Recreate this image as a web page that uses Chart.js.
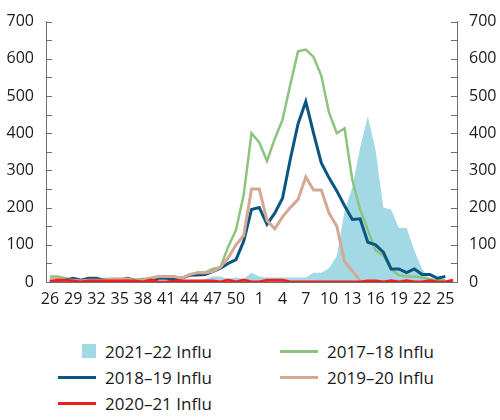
<!DOCTYPE html>
<html>
<head>
<meta charset="utf-8">
<script src="https://cdn.jsdelivr.net/npm/chart.js@4.4.1/dist/chart.umd.min.js"></script>
<style>
  html, body { margin: 0; padding: 0; background: #fff; }
  .wrap { position: relative; width: 500px; height: 420px; font-family: "Open Sans", sans-serif; }
  #chart { position: absolute; left: 0; top: 0; }
  .legend {
    position: absolute; left: 58px; top: 338px;
    display: grid; grid-template-columns: 222px 200px; grid-auto-rows: 26px;
    font-size: 17px; color: #1a1a1a;
  }
  .legend__item { display: flex; align-items: center; white-space: nowrap; }
  .legend__symbol { width: 38px; height: 14px; margin-right: 9px; display: flex; align-items: center; justify-content: flex-end; }
  .legend__line { width: 38px; height: 3px; }
  .legend__box { width: 14px; height: 14px; }
</style>
</head>
<body>
<div class="wrap">
  <canvas id="chart" width="500" height="320"></canvas>
  <div class="legend" id="legend"></div>
</div>
<script>
// weeks 26-52 then 1-26
const weeks = [26,27,28,29,30,31,32,33,34,35,36,37,38,39,40,41,42,43,44,45,46,47,48,49,50,51,52,
  1,2,3,4,5,6,7,8,9,10,11,12,13,14,15,16,17,18,19,20,21,22,23,24,25,26];

const influ2122 = [0,0,0,0,0,0,0,0,0,0,0,0,0,0,0,0,0,0,0,3,8,15,15,8,12,8,25,15,12,12,12,12,12,12,25,25,37,70,190,255,360,445,355,200,195,145,145,85,35,5,0,0,null];
const influ1718 = [15,15,10,5,5,5,5,8,8,8,8,5,8,10,15,15,15,10,20,25,25,35,40,95,140,235,400,375,325,385,436,530,620,625,605,555,455,400,413,275,195,140,85,70,35,18,15,15,12,8,5,5,null];
const influ1819 = [3,5,5,10,5,10,10,5,5,5,10,5,5,5,10,10,8,10,18,19,20,28,37,50,60,110,195,200,155,185,225,330,425,485,400,320,280,245,205,168,170,107,100,80,35,35,25,35,20,20,10,15,null];
const influ1920 = [10,8,5,5,3,5,5,5,8,8,8,5,5,10,15,15,15,10,20,25,25,28,40,65,100,125,250,250,165,143,175,200,222,282,247,247,185,150,55,30,3,null,null,null,null,null,null,null,null,null,null,null,null];
const influ2021 = [0,5,5,3,0,3,3,3,3,3,3,3,0,5,0,0,3,3,3,3,3,3,0,5,0,5,0,0,5,5,5,0,0,0,0,0,0,0,0,0,0,3,3,0,3,0,3,0,0,3,0,0,5];

const yTicks = [0,100,200,300,400,500,600,700];

const axisColor = '#6f6f6f';
const fontSpec = { family: '"Open Sans", sans-serif', size: 16 };

// small tick marks drawn inside the plot along both y axes, every 50
const innerTicks = {
  id: 'innerTicks',
  afterDraw(chart) {
    const ctx = chart.ctx;
    ctx.save();
    ctx.strokeStyle = axisColor;
    ctx.lineWidth = 1;
    ['y', 'y2'].forEach(id => {
      const s = chart.scales[id];
      const x = id === 'y' ? s.right : s.left;
      const dir = id === 'y' ? 1 : -1;
      for (let v = yTicks[0]; v <= yTicks[yTicks.length - 1]; v += 50) {
        const py = Math.round(s.getPixelForValue(v)) + 0.5;
        ctx.beginPath();
        ctx.moveTo(x, py);
        ctx.lineTo(x + dir * 6, py);
        ctx.stroke();
      }
    });
    ctx.restore();
  }
};

function line(label, data, color, width, order) {
  return { type: 'line', label, data, borderColor: color, backgroundColor: color,
    borderWidth: width, pointRadius: 0, tension: 0, fill: false, order };
}

const datasets = [
  { type: 'line', label: '2021–22 Influ', data: influ2122, borderWidth: 0, borderColor: 'rgba(0,0,0,0)',
    backgroundColor: '#a3d8e5', pointRadius: 0, fill: 'origin', order: 5, legendBox: true },
  line('2017–18 Influ', influ1718, '#8cc47e', 2.5, 4),
  line('2018–19 Influ', influ1819, '#0a5683', 3, 3),
  line('2019–20 Influ', influ1920, '#d5a892', 3, 2),
  line('2020–21 Influ', influ2021, '#ee1f1f', 3, 1)
];

const chart = new Chart(document.getElementById('chart'), {
  data: { labels: weeks, datasets },
  options: {
    responsive: false,
    animation: false,
    layout: { padding: { top: 15, left: 0, right: 0, bottom: 0 } },
    plugins: { legend: { display: false }, tooltip: { enabled: false } },
    scales: {
      x: {
        offset: true,
        grid: { display: false, drawTicks: false },
        border: { color: axisColor, width: 1 },
        ticks: {
          autoSkip: false, maxRotation: 0, padding: 8, color: '#1a1a1a', font: fontSpec,
          callback: (v, i) => i % 3 === 0 ? weeks[i] : ''
        },
        afterFit: s => { s.height = 38; }
      },
      y: {
        position: 'left', min: 0, max: 700,
        grid: { display: false, drawTicks: false },
        border: { color: axisColor, width: 1 },
        ticks: { stepSize: 100, padding: 12, color: '#1a1a1a', font: fontSpec },
        afterFit: s => { s.width = 46; }
      },
      y2: {
        position: 'right', min: 0, max: 700,
        grid: { display: false, drawTicks: false },
        border: { color: axisColor, width: 1 },
        ticks: { stepSize: 100, padding: 12, color: '#1a1a1a', font: fontSpec },
        afterFit: s => { s.width = 43; }
      }
    }
  },
  plugins: [innerTicks]
});

// html legend in two columns, built from the chart datasets
const legend = document.getElementById('legend');
chart.data.datasets.forEach(ds => {
  const item = document.createElement('div');
  item.className = 'legend__item';
  const symbol = document.createElement('div');
  symbol.className = 'legend__symbol';
  const mark = document.createElement('div');
  mark.className = ds.legendBox ? 'legend__box' : 'legend__line';
  mark.style.backgroundColor = ds.backgroundColor;
  symbol.append(mark);
  const text = document.createElement('span');
  text.textContent = ds.label;
  item.append(symbol, text);
  legend.appendChild(item);
});
</script>
</body>
</html>
